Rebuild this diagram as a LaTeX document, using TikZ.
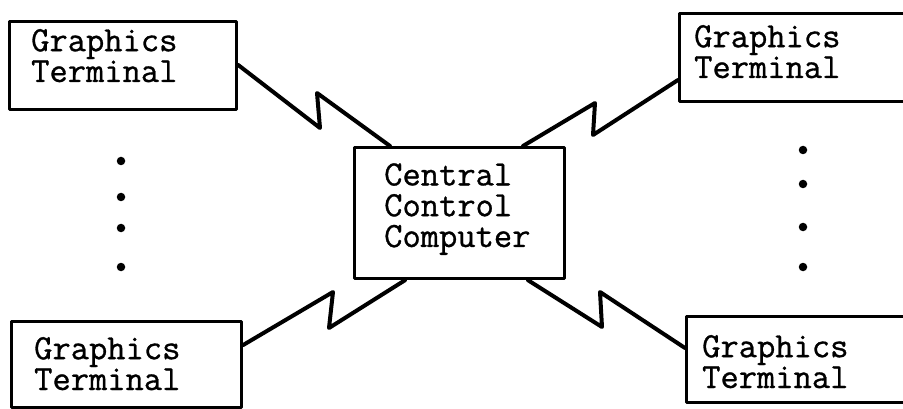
\documentclass[tikz,border=0pt]{standalone}
\usepackage{fontspec}
\newfontfamily\twfont[FakeBold=0.9]{Latin Modern Mono}
\begin{document}
\begin{tikzpicture}[x=1pt,y=-1pt,line join=round,line cap=round]
\tikzset{
  termbox/.style={draw,line width=3.2pt,rectangle,inner sep=0pt,anchor=north west},
  lbl/.style={inner sep=0pt,anchor=base west,align=left,font=\twfont\fontsize{35.5}{30.8}\selectfont},
  bolt/.style={line width=4pt},
  dotmark/.style={circle,fill=black,inner sep=0pt,minimum size=8.5pt}
}
\useasboundingbox (0,0) rectangle (903,409);
\clip (0,0) rectangle (903,409);
% boxes
\node[termbox,minimum width=227pt,minimum height=88pt] (tl) at (8,20) {};
\node[termbox,minimum width=260pt,minimum height=88pt] (tr) at (678,12) {};
\node[termbox,minimum width=230pt,minimum height=86pt] (bl) at (10,320) {};
\node[termbox,minimum width=260pt,minimum height=86pt] (br) at (685,315) {};
\node[termbox,minimum width=210pt,minimum height=131pt] (cc) at (353,146) {};
% texts (base = last line)
\node[lbl] (tlt) at (31,82) {Graphics\\Terminal};
\node[lbl] (trt) at (694,78) {Graphics\\Terminal};
\node[lbl] (blt) at (34,390) {Graphics\\Terminal};
\node[lbl] (brt) at (702,388) {Graphics\\Terminal};
\node[lbl] (cct) at (384,247) {Central\\Control\\Computer};
% bolt end points
\coordinate (tla) at (tl.east |- 0,65);
\coordinate (tlb) at (390,0 |- cc.north);
\coordinate (tra) at (523,0 |- cc.north);
\coordinate (trb) at (tr.west |- 0,80);
\coordinate (bla) at (bl.east |- 0,345);
\coordinate (blb) at (405,0 |- cc.south);
\coordinate (bra) at (528,0 |- cc.south);
\coordinate (brb) at (br.west |- 0,348);
% bolts
\draw[bolt] (tla) -- (320,128) -- (317,93) -- (tlb);
\draw[bolt] (tra) -- (595,103) -- (593,135) -- (trb);
\draw[bolt] (bla) -- (333,292) -- (329,328) -- (blb);
\draw[bolt] (bra) -- (602,327) -- (600,292) -- (brb);
% dots
\node[dotmark] (l1) at (121,161) {};
\node[dotmark] (l2) at (121,197) {};
\node[dotmark] (l3) at (121,228) {};
\node[dotmark] (l4) at (121,267) {};
\node[dotmark] (r1) at (803,150) {};
\node[dotmark] (r2) at (803,184) {};
\node[dotmark] (r3) at (803,227) {};
\node[dotmark] (r4) at (803,267) {};
\end{tikzpicture}
\end{document}
